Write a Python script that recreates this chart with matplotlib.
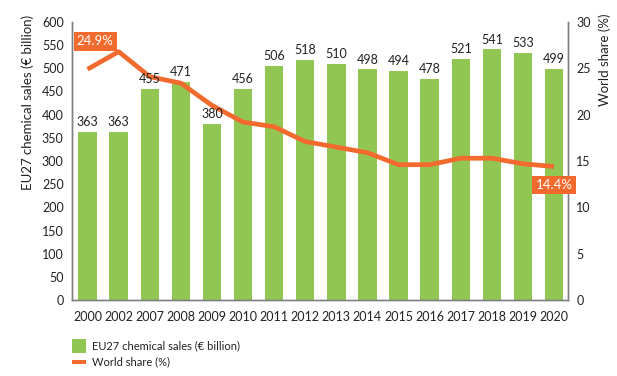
import matplotlib
matplotlib.use("Agg")
import matplotlib.pyplot as plt
from matplotlib.patches import Rectangle

plt.rcParams['font.family'] = ['Lato', 'DejaVu Sans']

years = ["2000", "2002", "2007", "2008", "2009", "2010", "2011", "2012",
         "2013", "2014", "2015", "2016", "2017", "2018", "2019", "2020"]
sales = [363, 363, 455, 471, 380, 456, 506, 518, 510, 498, 494, 478, 521, 541, 533, 499]
share = [24.9, 26.8, 24.1, 23.4, 21.0, 19.2, 18.7, 17.1, 16.5, 15.9, 14.6, 14.6, 15.3, 15.3, 14.7, 14.4]
legend_labels = ["EU27 chemical sales (€ billion)", "World share (%)"]

green = "#92C653"
orange = "#F26A2E"
gray = "#808080"
txt = "#222222"

W, H = 617, 376
fig = plt.figure(figsize=(6.17, 3.76), dpi=100)
ax = fig.add_axes([0.1167, 0.2021, 0.8039, 0.7394])
ax2 = ax.twinx()

x = list(range(len(years)))
ax.bar(x, sales, width=0.59, color=green, zorder=2)

ax.set_ylim(0, 600)
ax.set_yticks(range(0, 601, 50))
ax.set_xlim(-0.5, 15.45)
ax.set_xticks(x)
ax.set_xticklabels(years)
ax2.set_ylim(0, 30)
ax2.set_yticks(range(0, 31, 5))

ax2.plot(x, share, color=orange, lw=3.4, solid_capstyle='butt', zorder=3)

# bar value labels drawn on top of the line
for xi, v in zip(x, sales):
    ax2.text(xi, v + 8, str(v), ha='center', va='bottom', fontsize=9, color=txt,
             transform=ax.transData, zorder=5)

for a in (ax, ax2):
    a.tick_params(length=0, labelsize=9, colors=txt, pad=6)
    a.spines['top'].set_visible(False)
    for s in ('left', 'right', 'bottom'):
        a.spines[s].set_color(gray)
        a.spines[s].set_linewidth(1)
ax.tick_params(axis='x', pad=8)

bbox = dict(boxstyle='square,pad=0.25', fc=orange, ec='none')
ax2.text(0.25, 27.9, "24.9%", ha='center', va='center', fontsize=9.5, color='white', bbox=bbox, zorder=6)
ax2.text(15.0, 12.4, "14.4%", ha='center', va='center', fontsize=9.5, color='white', bbox=bbox, zorder=6)

fig.text(0.045, 0.96, "EU27 chemical sales (€ billion)", rotation=90, ha='center', va='top',
         fontsize=9.5, color=txt)
fig.text(0.98, 0.965, "World share (%)", rotation=90, ha='center', va='top',
         fontsize=9.5, color=txt)

# legend (manual)
fig.patches.append(Rectangle((72 / W, 1 - 353 / H), 14 / W, 14 / H, transform=fig.transFigure,
                             facecolor=green, edgecolor='none'))
fig.patches.append(Rectangle((72 / W, 1 - 364 / H), 14 / W, 4.5 / H, transform=fig.transFigure,
                             facecolor=orange, edgecolor='none'))
fig.text(92 / W, 1 - 346 / H, legend_labels[0], ha='left', va='center', fontsize=8, color=txt)
fig.text(92 / W, 1 - 362 / H, legend_labels[1], ha='left', va='center', fontsize=8, color=txt)

fig.savefig("out.png", dpi=100)
